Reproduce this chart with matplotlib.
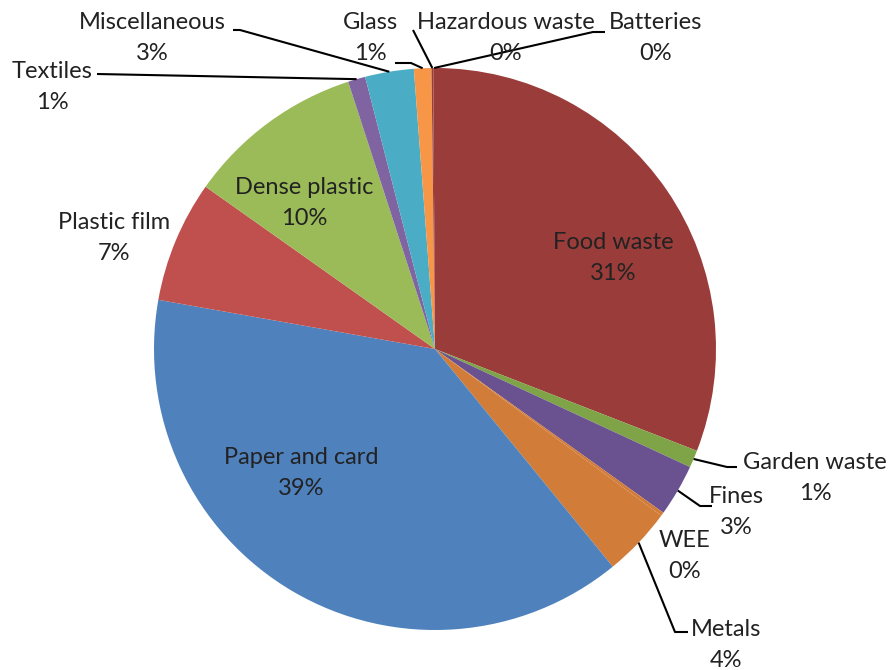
import numpy as np
import matplotlib
import matplotlib.pyplot as plt

matplotlib.use("Agg")

categories = [
    "Food waste", "Garden waste", "Fines", "WEE", "Metals", "Paper and card",
    "Plastic film", "Dense plastic", "Textiles", "Miscellaneous", "Glass",
    "Hazardous waste", "Batteries",
]
shares = [30.9, 1.0, 3.0, 0.2, 4.0, 38.7, 7.0, 10.2, 1.0, 2.8, 1.0, 0.1, 0.1]
colors = [
    "#9A3D3A", "#7FA447", "#6A5290", "#D17C38", "#D17C38", "#4F81BD",
    "#C0504D", "#9BBB59", "#8064A2", "#4BACC6", "#F79646", "#9A3D3A",
    "#9A3D3A",
]

W, H = 895, 670
CX, CY, R = 435, 349, 281  # pixel coordinates, y measured from the top

# label centre (px) and leader line elbow points (px)
label_pos = {
    "Food waste": (613, 258), "Garden waste": (815, 478), "Fines": (736, 512),
    "WEE": (685, 556), "Metals": (726, 645), "Paper and card": (301, 473),
    "Plastic film": (114, 238), "Dense plastic": (304, 203),
    "Textiles": (52, 87), "Miscellaneous": (152, 38), "Glass": (370, 38),
    "Hazardous waste": (506, 38), "Batteries": (656, 38),
}
leaders = {
    "Garden waste": [(727, 467), (737, 467)],
    "Fines": [(700, 506), (712, 506)],
    "Metals": [(675, 632), (688, 632)],
    "Textiles": [(97, 74)],
    "Miscellaneous": [(240, 30), (233, 30)],
    "Glass": [(411, 63), (395, 63)],
    "Hazardous waste": [(413, 30)],
    "Batteries": [(593, 32), (605, 32)],
}

fig = plt.figure(figsize=(W / 100, H / 100), dpi=100)
ax = fig.add_axes([0, 0, 1, 1])

wedges, _ = ax.pie(
    shares, colors=colors, startangle=90, counterclock=False,
    center=(CX, H - CY), radius=R, wedgeprops=dict(linewidth=0),
)
ax.set_xlim(0, W)
ax.set_ylim(0, H)
ax.set_aspect("equal")
ax.axis("off")

total = sum(shares)
font = ["Lato", "DejaVu Sans"]
for w, name, val in zip(wedges, categories, shares):
    lx, ly = label_pos[name]
    # name and percentage as two separate lines
    ax.text(lx, H - (ly - 15.5), name, ha="center", va="center",
            fontsize=17, family=font, color="#222222")
    ax.text(lx, H - (ly + 15.5), f"{round(val / total * 100):.0f}%",
            ha="center", va="center", fontsize=17, family=font,
            color="#222222")
    if name in leaders:
        mid = np.deg2rad((w.theta1 + w.theta2) / 2)
        x0 = CX + R * np.cos(mid)
        y0 = (H - CY) + R * np.sin(mid)
        pts = [(x0, y0)] + [(x, H - y) for x, y in leaders[name]]
        xs, ys = zip(*pts)
        ax.plot(xs, ys, color="black", lw=1.5, solid_capstyle="butt")

fig.savefig("out.png", dpi=100)
